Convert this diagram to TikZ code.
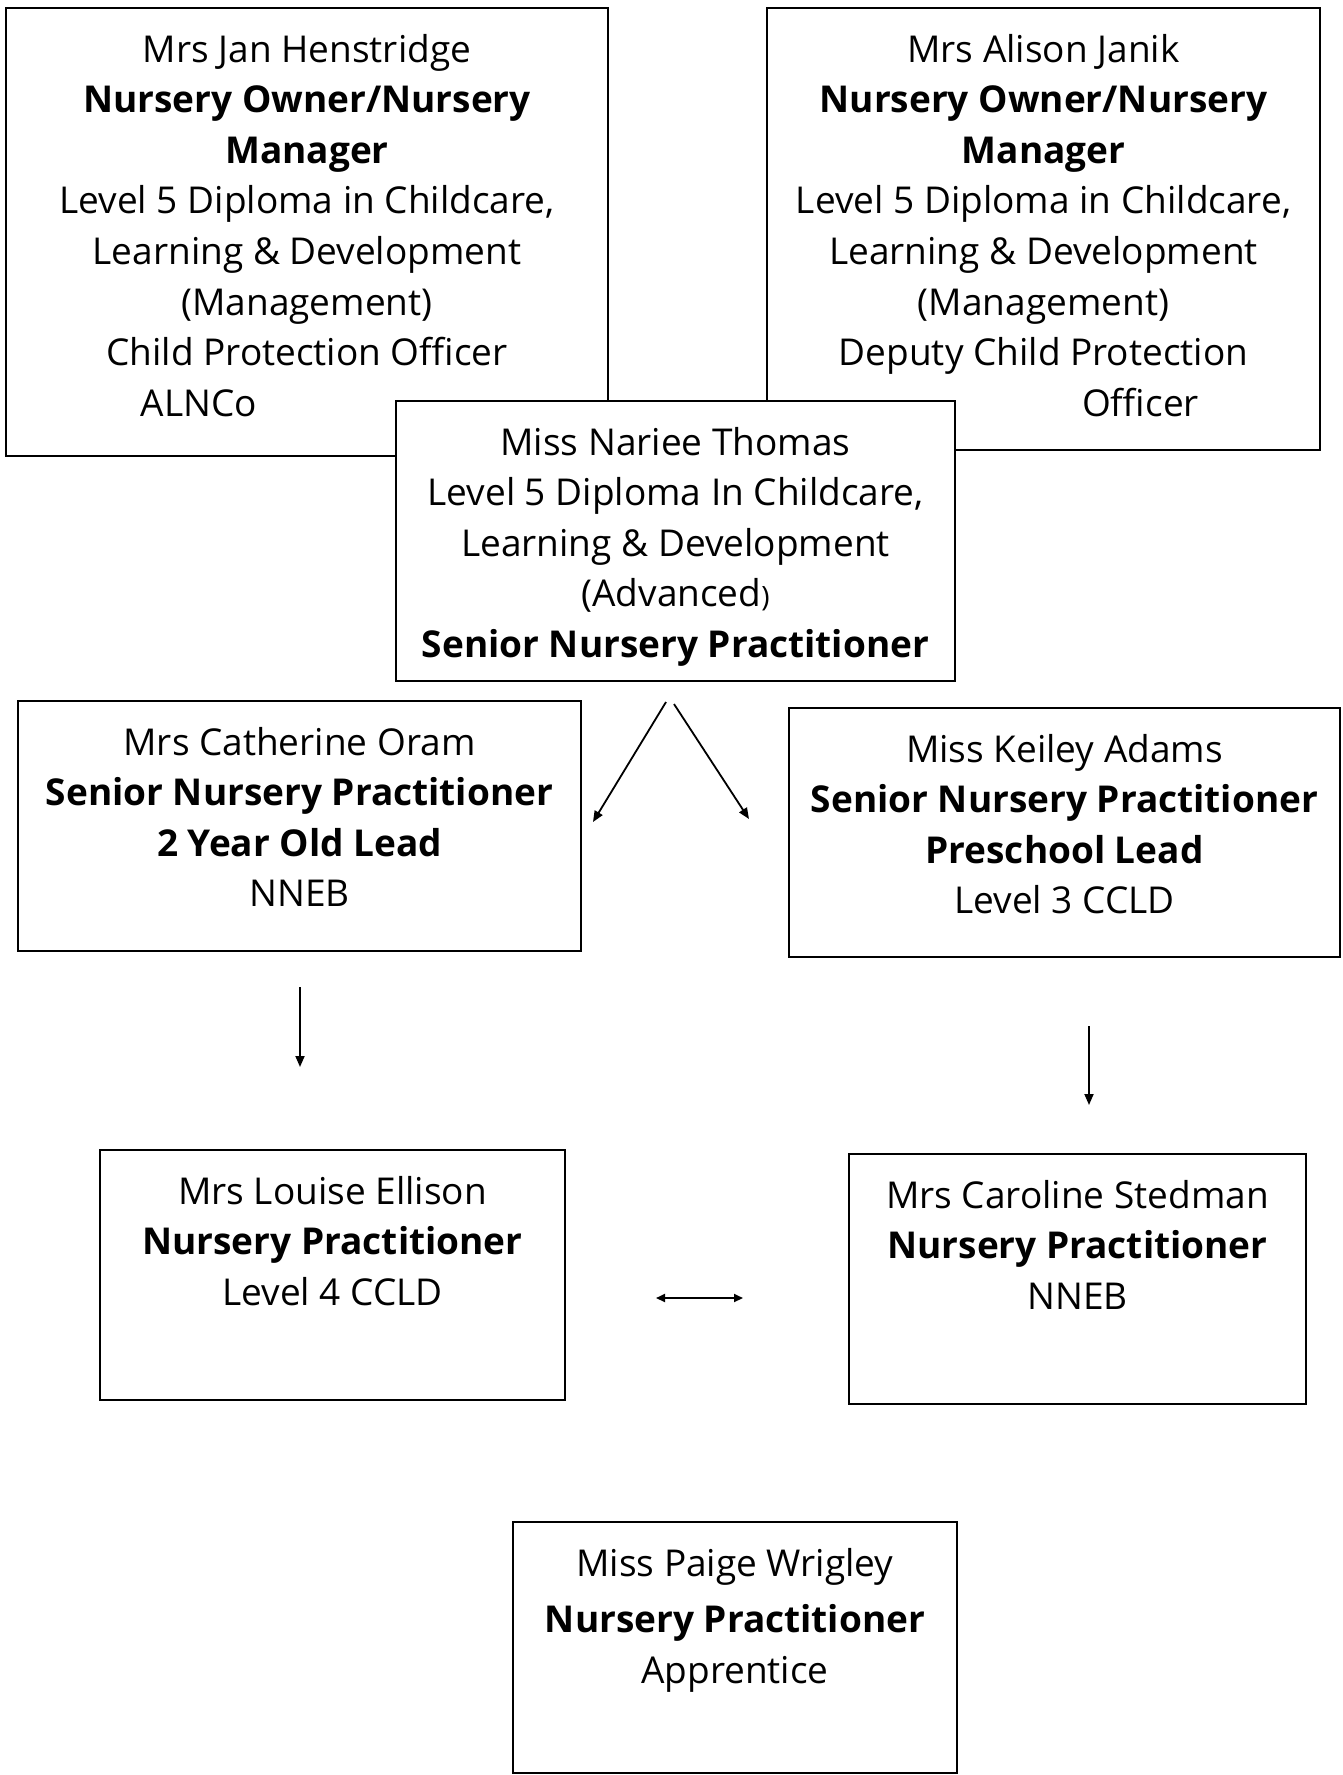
\documentclass[tikz,border=0pt]{standalone}
\usepackage{fontspec}
\setmainfont{Open Sans}
\usetikzlibrary{arrows.meta,positioning}
\begin{document}
\begin{tikzpicture}[x=1pt,y=-1pt,
  box/.style={draw=black, line width=2pt, fill=white, rectangle, inner sep=0pt, outer sep=0pt},
  txt/.style={align=center, inner sep=0pt, outer sep=0pt, font=\fontsize{37}{50.6}\selectfont},
  arr/.style={line width=1.8pt, -{Triangle[length=11pt,width=9pt]}},
  darr/.style={line width=1.8pt, {Triangle[length=9pt,width=8pt]}-{Triangle[length=9pt,width=8pt]}}
]
\useasboundingbox[fill=white] (0,0) rectangle (1342,1775);

% top left
\node[box, minimum width=602pt, minimum height=448pt] (a) at (307,232) {};
\node[txt, below=26pt of a.north] (ta) {Mrs Jan Henstridge\\ \textbf{Nursery Owner/Nursery}\\ \textbf{Manager}\\ Level 5 Diploma in Childcare,\\ Learning \& Development\\ (Management)\\ Child Protection Officer\\ \hbox{ALNCo\hspace{216pt}}};

% top right
\node[box, minimum width=553pt, minimum height=442pt] (b) at (1043.5,229) {};
\node[txt, below=26pt of b.north] (tb) {Mrs Alison Janik\\ \textbf{Nursery Owner/Nursery}\\ \textbf{Manager}\\ Level 5 Diploma in Childcare,\\ Learning \& Development\\ (Management)\\ Deputy Child Protection\\ \hbox{\hspace{194pt}Officer}};

% centre
\node[box, minimum width=559pt, minimum height=280pt] (c) at (675.5,541) {};
\node[txt, below=26pt of c.north] (tc) {Miss Nariee Thomas\\ Level 5 Diploma In Childcare,\\ Learning \& Development\\ (Advanced{\fontsize{28}{28}\selectfont )}\\ \textbf{Senior Nursery Practitioner}};

% second row
\node[box, minimum width=563pt, minimum height=250pt] (d) at (299.5,826) {};
\node[txt, below=26pt of d.north] (td) {Mrs Catherine Oram\\ \textbf{Senior Nursery Practitioner}\\ \textbf{2 Year Old Lead}\\ NNEB};

\node[box, minimum width=551pt, minimum height=249pt] (e) at (1064.5,832.5) {};
\node[txt, below=26pt of e.north] (te) {Miss Keiley Adams\\ \textbf{Senior Nursery Practitioner}\\ \textbf{Preschool Lead}\\ Level 3 CCLD};

% third row
\node[box, minimum width=465pt, minimum height=250pt] (f) at (332.5,1275) {};
\node[txt, below=26pt of f.north] (tf) {Mrs Louise Ellison\\ \textbf{Nursery Practitioner}\\ Level 4 CCLD};

\node[box, minimum width=457pt, minimum height=250pt] (g) at (1077.5,1279) {};
\node[txt, below=26pt of g.north] (tg) {Mrs Caroline Stedman\\ \textbf{Nursery Practitioner}\\ NNEB};

% bottom
\node[box, minimum width=444pt, minimum height=251pt] (h) at (735,1647.5) {};
\node[txt, below=26pt of h.north] (th) {Miss Paige Wrigley\\[6pt] \textbf{Nursery Practitioner}\\ Apprentice};

% connectors
\coordinate (vl) at (666,702);
\coordinate (vr) at (674,704);
\coordinate (dl) at (593,822);
\coordinate (dr) at (749,819);
\draw[arr] (vl) -- (dl);
\draw[arr] (vr) -- (dr);

\coordinate (l1) at (300,987);
\coordinate (l2) at (300,1067);
\draw[arr] (l1) -- (l2);

\coordinate (r1) at (1089,1026);
\coordinate (r2) at (1089,1105);
\draw[arr] (r1) -- (r2);

\coordinate (m1) at (656,1298);
\coordinate (m2) at (743,1298);
\draw[darr] (m1) -- (m2);
\end{tikzpicture}
\end{document}
